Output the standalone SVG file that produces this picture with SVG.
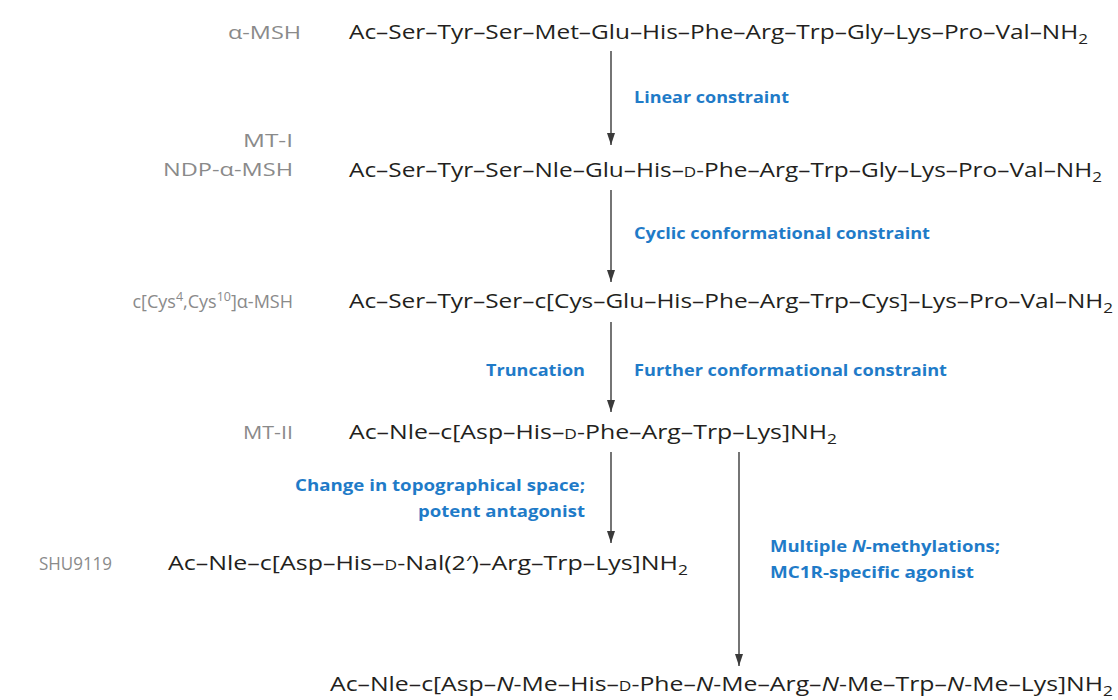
<svg xmlns="http://www.w3.org/2000/svg" width="1118" height="700" viewBox="0 0 1118 700">
<style>
.seq{font-family:"Open Sans","Noto Sans","Liberation Sans",sans-serif;font-size:20px;fill:#231f20}
.lab{font-family:"Open Sans","Noto Sans","Liberation Sans",sans-serif;font-size:19px;fill:#8a8a8a}
.note{font-family:"Open Sans","Noto Sans","Liberation Sans",sans-serif;font-size:16.5px;font-weight:bold;fill:#1f7bc8}
.sub{font-size:14px}
.sup{font-size:12.5px}
.sc{font-size:14px}
.it{font-style:italic}
.arr{stroke:#3a3a3a;stroke-width:1.4;fill:none;marker-end:url(#ah)}
</style>
<defs>
<marker id="ah" markerUnits="userSpaceOnUse" markerWidth="13" markerHeight="9" refX="12" refY="4.5" orient="auto" viewBox="0 0 13 9">
<path d="M0,0.5 L12,4.5 L0,8.5 z" fill="#3a3a3a"/>
</marker>
</defs>
<rect width="1118" height="700" fill="#ffffff"/>

<g id="connectors">
<line class="arr" x1="611" y1="51" x2="611" y2="145"/>
<line class="arr" x1="611" y1="190" x2="611" y2="282"/>
<line class="arr" x1="611" y1="322" x2="611" y2="412"/>
<line class="arr" x1="611" y1="452" x2="611" y2="543"/>
<line class="arr" x1="739" y1="452" x2="739" y2="666"/>
<text class="note" x="634" y="103" textLength="155" lengthAdjust="spacingAndGlyphs">Linear constraint</text>
<text class="note" x="634" y="239" textLength="296" lengthAdjust="spacingAndGlyphs">Cyclic conformational constraint</text>
<text class="note" x="585" y="376" text-anchor="end" textLength="99" lengthAdjust="spacingAndGlyphs">Truncation</text>
<text class="note" x="634" y="376" textLength="313" lengthAdjust="spacingAndGlyphs">Further conformational constraint</text>
<text class="note" x="585" y="491" text-anchor="end" textLength="290" lengthAdjust="spacingAndGlyphs">Change in topographical space;</text>
<text class="note" x="585" y="517" text-anchor="end" textLength="167" lengthAdjust="spacingAndGlyphs">potent antagonist</text>
<text class="note" x="770" y="552" textLength="230" lengthAdjust="spacingAndGlyphs">Multiple <tspan class="it">N</tspan>-methylations;</text>
<text class="note" x="770" y="578" textLength="204" lengthAdjust="spacingAndGlyphs">MC1R-specific agonist</text>
</g>

<g id="alpha-msh">
<text class="lab" x="301" y="39" text-anchor="end" textLength="73" lengthAdjust="spacingAndGlyphs">α-MSH</text>
<text class="seq" x="349" y="39" textLength="739" lengthAdjust="spacingAndGlyphs">Ac–Ser–Tyr–Ser–Met–Glu–His–Phe–Arg–Trp–Gly–Lys–Pro–Val–NH<tspan class="sub" dy="5">2</tspan></text>
</g>

<g id="mt-i">
<text class="lab" x="293" y="147" text-anchor="end" textLength="50" lengthAdjust="spacingAndGlyphs">MT-I</text>
<text class="lab" x="293" y="176" text-anchor="end" textLength="130" lengthAdjust="spacingAndGlyphs">NDP-α-MSH</text>
<text class="seq" x="349" y="177" textLength="753" lengthAdjust="spacingAndGlyphs">Ac–Ser–Tyr–Ser–Nle–Glu–His–<tspan class="sc">D</tspan>-Phe–Arg–Trp–Gly–Lys–Pro–Val–NH<tspan class="sub" dy="5">2</tspan></text>
</g>

<g id="cys-msh">
<text class="lab" x="293" y="308" text-anchor="end" style="font-size:18px">c[Cys<tspan class="sup" dy="-7">4</tspan><tspan dy="7">,Cys</tspan><tspan class="sup" dy="-7">10</tspan><tspan dy="7">]α-MSH</tspan></text>
<text class="seq" x="349" y="308" textLength="764" lengthAdjust="spacingAndGlyphs">Ac–Ser–Tyr–Ser–c[Cys–Glu–His–Phe–Arg–Trp–Cys]–Lys–Pro–Val–NH<tspan class="sub" dy="5">2</tspan></text>
</g>

<g id="mt-ii">
<text class="lab" x="293" y="439" text-anchor="end" textLength="50" lengthAdjust="spacingAndGlyphs">MT-II</text>
<text class="seq" x="349" y="439" textLength="488" lengthAdjust="spacingAndGlyphs">Ac–Nle–c[Asp–His–<tspan class="sc">D</tspan>-Phe–Arg–Trp–Lys]NH<tspan class="sub" dy="5">2</tspan></text>
</g>

<g id="shu9119">
<text class="lab" x="39" y="570" textLength="73" lengthAdjust="spacingAndGlyphs">SHU9119</text>
<text class="seq" x="168" y="570" textLength="520" lengthAdjust="spacingAndGlyphs">Ac–Nle–c[Asp–His–<tspan class="sc">D</tspan>-Nal(2′)–Arg–Trp–Lys]NH<tspan class="sub" dy="5">2</tspan></text>
</g>

<g id="n-methyl">
<text class="seq" x="330" y="691" textLength="783" lengthAdjust="spacingAndGlyphs">Ac–Nle–c[Asp–<tspan class="it">N</tspan>-Me–His–<tspan class="sc">D</tspan>-Phe–<tspan class="it">N</tspan>-Me–Arg–<tspan class="it">N</tspan>-Me–Trp–<tspan class="it">N</tspan>-Me–Lys]NH<tspan class="sub" dy="5">2</tspan></text>
</g>
</svg>
